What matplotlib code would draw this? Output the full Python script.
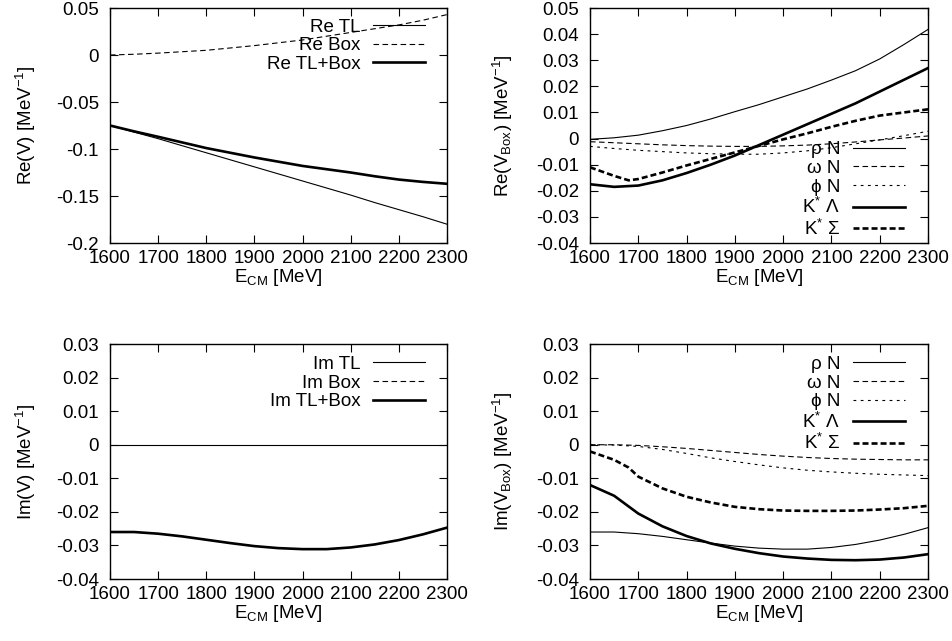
"""
plot.py - Re/Im parts of the tree-level and box potentials vs E_CM.

Four panels in gnuplot style: Re(V), Re(V_Box), Im(V), Im(V_Box).
"""

import matplotlib
matplotlib.use("Agg")
import matplotlib.pyplot as plt
from matplotlib.ticker import FuncFormatter, MultipleLocator

# energy grid [MeV]
E = [1600, 1650, 1700, 1750, 1800, 1850, 1900, 1950,
     2000, 2050, 2100, 2150, 2200, 2250, 2300]
# K* Sigma has a cusp at threshold, so it gets its own grid
E_KSIG = [1600, 1650, 1680, 1700, 1750, 1800, 1850, 1900, 1950,
          2000, 2050, 2100, 2150, 2200, 2250, 2300]

# --- Re(V) [MeV^-1] ---
re_tl = [-0.075, -0.082, -0.089, -0.0965, -0.104, -0.1115, -0.119, -0.1265,
         -0.134, -0.1415, -0.149, -0.157, -0.1645, -0.172, -0.180]
re_box = [0.0, 0.0008, 0.002, 0.0035, 0.005, 0.0075, 0.010, 0.013,
          0.016, 0.020, 0.024, 0.028, 0.032, 0.037, 0.043]
re_tl_box = [-0.075, -0.0812, -0.087, -0.093, -0.099, -0.104, -0.109, -0.1135,
             -0.118, -0.1215, -0.125, -0.129, -0.1325, -0.135, -0.137]

# --- Re(V_Box) per channel ---
re_rho = [-0.0003, 0.0003, 0.0013, 0.003, 0.005, 0.0075, 0.0103, 0.013,
          0.016, 0.019, 0.0224, 0.026, 0.0305, 0.036, 0.0418]
re_omega = [-0.0012, -0.0016, -0.002, -0.0024, -0.0027, -0.0029, -0.003, -0.003,
            -0.0028, -0.0025, -0.002, -0.0013, -0.0005, 0.0002, 0.001]
re_phi = [-0.003, -0.0038, -0.0045, -0.005, -0.0055, -0.0058, -0.006, -0.006,
          -0.0055, -0.0047, -0.0035, -0.002, -0.0005, 0.0011, 0.0028]
re_klam = [-0.0175, -0.0185, -0.018, -0.016, -0.0132, -0.010, -0.0065, -0.0025,
           0.0015, 0.0055, 0.0095, 0.0135, 0.018, 0.0225, 0.027]
re_ksig = [-0.011, -0.0143, -0.016, -0.0155, -0.013, -0.0103, -0.0078, -0.0053,
           -0.0028, -0.0003, 0.002, 0.0045, 0.0068, 0.0088, 0.0100, 0.0112]

# --- Im(V) [MeV^-1] ---
im_tl = [0.0] * len(E)
im_box = [-0.026, -0.026, -0.0265, -0.0273, -0.0283, -0.0293, -0.0302, -0.0308,
          -0.0311, -0.0311, -0.0306, -0.0297, -0.0284, -0.0267, -0.0247]
im_tl_box = [-0.026, -0.026, -0.0265, -0.0273, -0.0283, -0.0293, -0.0302, -0.0308,
             -0.0311, -0.0311, -0.0306, -0.0297, -0.0284, -0.0267, -0.0247]

# --- Im(V_Box) per channel ---
im_rho = [-0.026, -0.026, -0.0265, -0.0273, -0.0283, -0.0293, -0.0302, -0.0308,
          -0.0311, -0.0311, -0.0306, -0.0297, -0.0284, -0.0267, -0.0247]
im_omega = [0.0, 0.0, -0.0002, -0.0006, -0.0011, -0.0017, -0.0023, -0.0029,
            -0.0034, -0.0038, -0.0041, -0.0043, -0.0044, -0.0045, -0.0045]
im_phi = [0.0, -0.0001, -0.0005, -0.0014, -0.0026, -0.0039, -0.005, -0.006,
          -0.0069, -0.0076, -0.0081, -0.0085, -0.0088, -0.009, -0.0092]
im_klam = [-0.012, -0.0152, -0.0205, -0.0243, -0.0272, -0.0294, -0.031, -0.0323,
           -0.0333, -0.0339, -0.0343, -0.0344, -0.0342, -0.0336, -0.0326]
im_ksig = [-0.002, -0.0045, -0.0068, -0.0095, -0.013, -0.0155, -0.0172, -0.0185,
           -0.0192, -0.0196, -0.0197, -0.0197, -0.0196, -0.0193, -0.0189, -0.0182]

CHANNEL_LABELS = ["ρ N", "ω N", "ϕ N", "K$^{*}$ Λ", "K$^{*}$ Σ"]

FS = 13.5
plt.rcParams["font.family"] = ["Liberation Sans", "DejaVu Sans"]
plt.rcParams["font.size"] = FS
plt.rcParams["mathtext.fontset"] = "custom"
plt.rcParams["mathtext.rm"] = "Liberation Sans"
plt.rcParams["mathtext.it"] = "Liberation Sans:italic"
plt.rcParams["lines.scale_dashes"] = False

THIN = 0.8
THICK = 1.9
STYLE = {
    "solid": dict(color="black", lw=THIN, ls="-"),
    "dash": dict(color="black", lw=THIN, dashes=(4.0, 2.5)),
    "dot": dict(color="black", lw=THIN, dashes=(2.0, 3.2)),
    "thick": dict(color="black", lw=THICK, ls="-"),
    "thickdash": dict(color="black", lw=THICK, dashes=(4.3, 2.2)),
}


def fmt(v, _pos):
    if abs(v) < 1e-12:
        return "0"
    return "%g" % round(v, 4)


def style_axes(ax, ylim, ystep, ylabel, ylabelpad):
    ax.set_xlim(1600, 2300)
    ax.set_ylim(*ylim)
    ax.xaxis.set_major_locator(MultipleLocator(100))
    ax.yaxis.set_major_locator(MultipleLocator(ystep))
    ax.yaxis.set_major_formatter(FuncFormatter(fmt))
    ax.tick_params(direction="in", top=True, right=True, length=5.8,
                   width=0.8, labelsize=FS)
    ax.tick_params(axis="y", pad=8)
    ax.tick_params(axis="x", pad=5)
    for sp in ax.spines.values():
        sp.set_linewidth(1.0)
    ax.set_xlabel("E$_{\\mathrm{CM}}$ [MeV]", labelpad=0)
    ax.set_ylabel(ylabel, labelpad=ylabelpad)


def add_legend(ax, loc, anchor):
    ax.legend(loc=loc, bbox_to_anchor=anchor, frameon=False, markerfirst=False,
              handlelength=2.8, handletextpad=0.65, labelspacing=0.08,
              borderpad=0.0, borderaxespad=0.0, fontsize=FS)


def main():
    fig = plt.figure(figsize=(9.53, 6.41), dpi=100)
    lw_, w_l = 0.1154, 0.3536
    lr_, w_r = 0.6191, 0.3547
    bt, bb, h = 0.6209, 0.0967, 0.3666

    # Re(V)
    ax = fig.add_axes([lw_, bt, w_l, h])
    ax.plot(E, re_tl, label="Re TL", **STYLE["solid"])
    ax.plot(E, re_box, label="Re Box", **STYLE["dash"])
    ax.plot(E, re_tl_box, label="Re TL+Box", **STYLE["thick"])
    style_axes(ax, (-0.2, 0.05), 0.05, "Re(V) [MeV$^{-1}$]", 13)
    add_legend(ax, "upper right", (0.935, 0.955))

    # Re(V_Box)
    ax = fig.add_axes([lr_, bt, w_r, h])
    re_series = [(E, re_rho, "solid"), (E, re_omega, "dash"), (E, re_phi, "dot"),
                 (E, re_klam, "thick"), (E_KSIG, re_ksig, "thickdash")]
    for (x, y, st), lab in zip(re_series, CHANNEL_LABELS):
        ax.plot(x, y, label=lab, **STYLE[st])
    style_axes(ax, (-0.04, 0.05), 0.01, "Re(V$_{\\mathrm{Box}}$) [MeV$^{-1}$]", 15)
    add_legend(ax, "lower right", (0.932, 0.018))

    # Im(V)
    ax = fig.add_axes([lw_, bb, w_l, h])
    ax.plot(E, im_tl, label="Im TL", **STYLE["solid"])
    ax.plot(E, im_box, label="Im Box", **STYLE["dash"])
    ax.plot(E, im_tl_box, label="Im TL+Box", **STYLE["thick"])
    style_axes(ax, (-0.04, 0.03), 0.01, "Im(V) [MeV$^{-1}$]", 13)
    add_legend(ax, "upper right", (0.935, 0.95))

    # Im(V_Box)
    ax = fig.add_axes([lr_, bb, w_r, h])
    im_series = [(E, im_rho, "solid"), (E, im_omega, "dash"), (E, im_phi, "dot"),
                 (E, im_klam, "thick"), (E_KSIG, im_ksig, "thickdash")]
    for (x, y, st), lab in zip(im_series, CHANNEL_LABELS):
        ax.plot(x, y, label=lab, **STYLE[st])
    style_axes(ax, (-0.04, 0.03), 0.01, "Im(V$_{\\mathrm{Box}}$) [MeV$^{-1}$]", 15)
    add_legend(ax, "upper right", (0.932, 0.95))

    fig.savefig("out.png", dpi=100)


if __name__ == "__main__":
    main()
